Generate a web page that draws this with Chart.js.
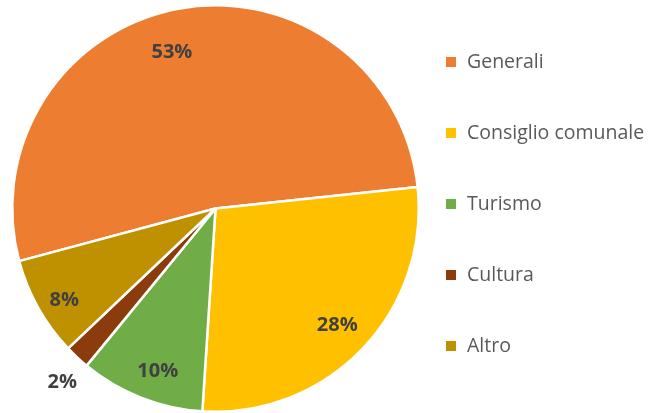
<!DOCTYPE html>
<html>
<head>
<meta charset="utf-8">
<script src="https://cdn.jsdelivr.net/npm/chart.js@4.4.1/dist/chart.umd.min.js"></script>
<style>
  html, body { margin: 0; padding: 0; background: #fff; }
  #wrap { width: 648px; height: 413px; position: relative; }
</style>
</head>
<body>
<div id="wrap"><canvas id="chart"></canvas></div>
<script>
const labels = ['Generali', 'Consiglio comunale', 'Turismo', 'Cultura', 'Altro'];
const values = [53, 28, 10, 2, 8];
const colors = ['#ED7D31', '#FFC000', '#70AD47', '#8C3B0C', '#BF9000'];

// distanza delle etichette dal centro (frazione del raggio)
const labelRadius = [0.80, 0.83, 0.85, 1.14, 0.87];
const labelAngleShift = [-5, 0, -2, -1.5, -2]; // gradi

// percentuali dentro le fette (la piccola va fuori)
const sliceLabels = {
  id: 'sliceLabels',
  afterDatasetsDraw(chart) {
    const ctx = chart.ctx;
    const meta = chart.getDatasetMeta(0);
    ctx.save();
    ctx.font = 'bold 20px "Open Sans"';
    ctx.fillStyle = '#404040';
    ctx.textAlign = 'center';
    ctx.textBaseline = 'middle';
    meta.data.forEach((arc, i) => {
      const mid = (arc.startAngle + arc.endAngle) / 2 + labelAngleShift[i] * Math.PI / 180;
      const r = arc.outerRadius * labelRadius[i];
      const x = arc.x + Math.cos(mid) * r;
      const y = arc.y + Math.sin(mid) * r;
      ctx.fillText(values[i] + '%', x, y);
    });
    ctx.restore();
  }
};

// legenda a destra, voci distanziate
const sideLegend = {
  id: 'sideLegend',
  afterDraw(chart) {
    const ctx = chart.ctx;
    ctx.save();
    ctx.font = '19.5px "Open Sans"';
    ctx.textBaseline = 'middle';
    labels.forEach((lab, i) => {
      const y = 62 + i * 71;
      ctx.fillStyle = colors[i];
      ctx.fillRect(446, y - 5, 10, 10);
      ctx.fillStyle = '#595959';
      ctx.fillText(lab, 467, y);
    });
    ctx.restore();
  }
};

new Chart(document.getElementById('chart'), {
  type: 'pie',
  data: {
    labels,
    datasets: [{
      data: values,
      backgroundColor: colors,
      borderColor: '#ffffff',
      borderWidth: 2.5
    }]
  },
  options: {
    responsive: true,
    maintainAspectRatio: false,
    animation: false,
    rotation: -105,
    layout: { padding: { left: 11, top: 4, right: 228, bottom: 0 } },
    plugins: {
      legend: { display: false },
      tooltip: { enabled: false }
    }
  },
  plugins: [sliceLabels, sideLegend]
});
</script>
</body>
</html>
